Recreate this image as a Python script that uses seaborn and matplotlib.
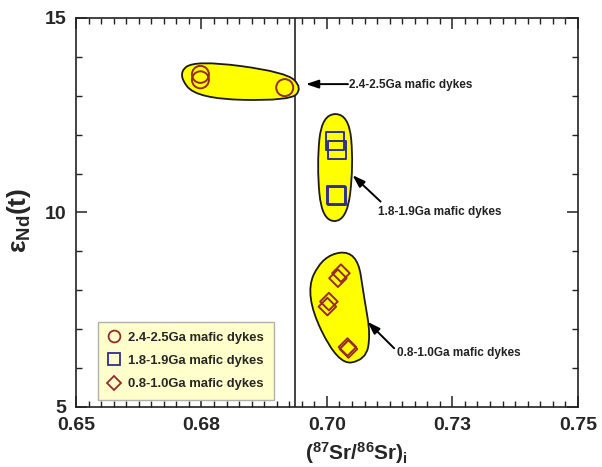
import numpy as np
import pandas as pd
import matplotlib
matplotlib.use("Agg")
import matplotlib.pyplot as plt
from matplotlib.path import Path
from matplotlib.patches import PathPatch
from matplotlib.lines import Line2D
from matplotlib.ticker import FixedLocator, FixedFormatter, MultipleLocator
import seaborn as sns

# ---- data -------------------------------------------------------------
groups = ["2.4-2.5Ga mafic dykes", "1.8-1.9Ga mafic dykes", "0.8-1.0Ga mafic dykes"]

sr_2400 = [0.6748, 0.6748, 0.6916]
nd_2400 = [13.55, 13.41, 13.21]

sr_1850 = [0.7017, 0.7020, 0.7018, 0.7020]
nd_1850 = [11.84, 11.61, 10.45, 10.42]

sr_900 = [0.7028, 0.7022, 0.7004, 0.7001, 0.7041, 0.7043]
nd_900 = [8.44, 8.31, 7.71, 7.58, 6.54, 6.49]

# field outlines (control polygons of the smoothed envelopes)
field_2400_x = [0.6737, 0.6702, 0.6741, 0.6927, 0.6951, 0.6919]
field_2400_y = [13.92, 13.56, 12.92, 12.87, 13.20, 13.61]
field_1850_x = [0.6990, 0.6980, 0.6990, 0.7040, 0.7053, 0.7044]
field_1850_y = [12.53, 11.22, 9.78, 9.78, 11.22, 12.53]
field_900_x = [0.7060, 0.6992, 0.6955, 0.7022, 0.7077, 0.7087, 0.7075]
field_900_y = [9.02, 8.91, 7.88, 6.08, 6.21, 6.85, 7.75]

# reference Sr line
sr_ref_line = 0.6936

# annotation arrows: (text, head x, head y, tail x, tail y)
note_text = ["2.4-2.5Ga mafic dykes", "1.8-1.9Ga mafic dykes", "0.8-1.0Ga mafic dykes"]
note_head_x = [0.6958, 0.7051, 0.7081]
note_head_y = [13.30, 10.96, 7.19]
note_tail_x = [0.7042, 0.7107, 0.7134]
note_tail_y = [13.30, 10.28, 6.51]
note_text_x = [0.7044, 0.7101, 0.7140]
note_text_y = [13.28, 10.02, 6.38]

x_ticks = [0.65, 0.675, 0.70, 0.725, 0.75]
x_tick_labels = ["0.65", "0.68", "0.70", "0.73", "0.75"]
y_ticks = [5, 10, 15]
y_tick_labels = ["5", "10", "15"]

# ---- style -------------------------------------------------------------
sns.set_style("ticks")
plt.rcParams["font.family"] = ["Liberation Sans", "DejaVu Sans"]
plt.rcParams["font.weight"] = "bold"
plt.rcParams["mathtext.fontset"] = "custom"
plt.rcParams["mathtext.rm"] = "Liberation Sans"
plt.rcParams["mathtext.bf"] = "Liberation Sans:bold"
plt.rcParams["mathtext.it"] = "Liberation Sans:italic"

colors = {groups[0]: "#962a2a", groups[1]: "#2f2f8c", groups[2]: "#962a2a"}
markers = {groups[0]: "o", groups[1]: "s", groups[2]: "D"}
sizes = {groups[0]: 150, groups[1]: 165, groups[2]: 80}

df = pd.DataFrame({
    "sr": sr_2400 + sr_1850 + sr_900,
    "nd": nd_2400 + nd_1850 + nd_900,
    "group": [groups[0]] * len(sr_2400) + [groups[1]] * len(sr_1850) + [groups[2]] * len(sr_900),
})

fig = plt.figure(figsize=(6.02, 4.67), dpi=100)
ax = fig.add_axes([0.1262, 0.1285, 0.8336, 0.833])


def smooth_field(xs, ys):
    pts = np.column_stack([xs, ys])
    mids = (pts + np.roll(pts, -1, axis=0)) / 2.0
    verts = [mids[-1]]
    codes = [Path.MOVETO]
    for i in range(len(pts)):
        verts += [pts[i], mids[i]]
        codes += [Path.CURVE3, Path.CURVE3]
    verts.append(mids[-1])
    codes.append(Path.CLOSEPOLY)
    return Path(verts, codes)


for fx, fy in [(field_2400_x, field_2400_y), (field_1850_x, field_1850_y), (field_900_x, field_900_y)]:
    ax.add_patch(PathPatch(smooth_field(fx, fy), facecolor="#ffff00",
                           edgecolor="#1a1a1a", linewidth=1.3, zorder=2))

ax.axvline(sr_ref_line, color="#222222", linewidth=1.2, zorder=1)

for g in groups:
    sub = df[df["group"] == g]
    sns.scatterplot(data=sub, x="sr", y="nd", marker=markers[g], s=sizes[g],
                    color=colors[g], facecolor="none", edgecolor=colors[g],
                    linewidth=1.4, legend=False, ax=ax, zorder=3)

for t, hx, hy, tx, ty, lx, ly in zip(note_text, note_head_x, note_head_y, note_tail_x,
                                     note_tail_y, note_text_x, note_text_y):
    ax.annotate("", xy=(hx, hy), xytext=(tx, ty),
                arrowprops=dict(arrowstyle="-|>,head_length=0.75,head_width=0.25",
                                color="black", lw=1.4, shrinkA=0, shrinkB=0))
    ax.text(lx, ly, t, fontsize=8.5, fontweight="bold", color="#222222",
            ha="left", va="center")

ax.set_xlim(0.65, 0.75)
ax.set_ylim(5, 15)
ax.xaxis.set_major_locator(FixedLocator(x_ticks))
ax.xaxis.set_major_formatter(FixedFormatter(x_tick_labels))
ax.xaxis.set_minor_locator(MultipleLocator(0.0025))
ax.yaxis.set_major_locator(FixedLocator(y_ticks))
ax.yaxis.set_major_formatter(FixedFormatter(y_tick_labels))
ax.yaxis.set_minor_locator(MultipleLocator(1))

ax.tick_params(which="both", direction="in", top=True, right=True, color="#222222")
ax.tick_params(which="major", length=8, width=1.1, labelsize=14, pad=7)
ax.tick_params(which="minor", length=4, width=1.0)
for lab in ax.get_xticklabels() + ax.get_yticklabels():
    lab.set_fontweight("bold")
for sp in ax.spines.values():
    sp.set_linewidth(1.2)
    sp.set_color("#222222")

ax.set_xlabel(r"$\mathbf{(^{87}Sr/^{86}Sr)_{i}}$", fontsize=15)
ax.xaxis.set_label_coords(0.558, -0.085)
ax.set_ylabel(r"$\mathrm{\varepsilon}_{\mathbf{Nd}}\mathbf{(t)}$", fontsize=19)
ax.yaxis.set_label_coords(-0.085, 0.48)

handles = [Line2D([], [], ls="none", marker=markers[g], mfc="none", mec=colors[g],
                  mew=1.3, ms={"o": 8.5, "s": 8, "D": 7}[markers[g]]) for g in groups]
leg = ax.legend(handles, groups, loc="lower left", bbox_to_anchor=(0.044, 0.018),
                borderaxespad=0, frameon=True, fancybox=False,
                handlelength=1.0, handletextpad=0.55, labelspacing=0.85, borderpad=0.75,
                prop={"weight": "bold", "size": 9.4})
leg.get_frame().set_facecolor("#ffffcc")
leg.get_frame().set_edgecolor("#b0b0b0")
leg.get_frame().set_linewidth(1.0)
leg.get_frame().set_alpha(1)

fig.savefig("out.png", dpi=100)
